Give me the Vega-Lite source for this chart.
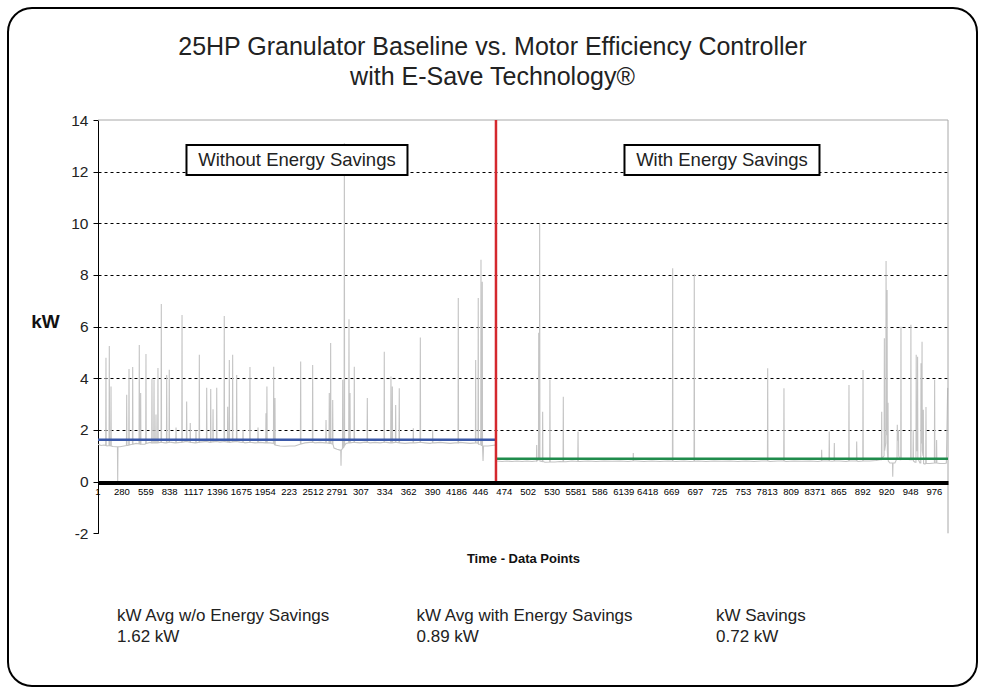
{
  "$schema": "https://vega.github.io/schema/vega-lite/v6.json",
  "width": 969,
  "height": 678,
  "padding": 8,
  "autosize": {"type": "none"},
  "background": "white",
  "config": {
    "view": {"stroke": "black", "strokeWidth": 2, "cornerRadius": 24},
    "font": "Liberation Sans",
    "axis": {"labelFont": "Liberation Sans", "titleFont": "Liberation Sans"},
    "text": {"font": "Liberation Sans"}
  },
  "title": {
    "text": ["25HP Granulator Baseline vs. Motor Efficiency Controller", "with E-Save Technology®"],
    "fontSize": 25,
    "font": "Liberation Sans",
    "fontWeight": "normal",
    "color": "#222222",
    "anchor": "middle",
    "frame": "group",
    "offset": -82,
    "lineHeight": 30
  },
  "resolve": {"scale": {"x": "independent", "y": "independent"}},
  "layer": [
    {
      "layer": [
        {
          "data": {"values": [
{"t":1,"kW":1.45},{"t":36,"kW":1.40},{"t":71,"kW":1.42},{"t":91,"kW":1.40},{"t":94,"kW":4.80},{"t":97,"kW":1.40},{"t":106,"kW":1.38},{"t":130,"kW":1.40},{"t":133,"kW":5.25},{"t":136,"kW":1.40},{"t":150,"kW":1.38},{"t":153,"kW":3.68},{"t":156,"kW":1.38},{"t":176,"kW":1.36},{"t":211,"kW":1.35},{"t":228,"kW":1.35},{"t":231,"kW":0.0},{"t":234,"kW":1.35},{"t":258,"kW":1.35},{"t":305,"kW":1.38},{"t":333,"kW":1.40},{"t":336,"kW":3.36},{"t":339,"kW":1.40},{"t":351,"kW":1.40},{"t":360,"kW":1.42},{"t":363,"kW":4.36},{"t":366,"kW":1.42},{"t":398,"kW":1.45},{"t":403,"kW":1.45},{"t":406,"kW":4.44},{"t":409,"kW":1.45},{"t":445,"kW":1.48},{"t":480,"kW":1.46},{"t":483,"kW":5.29},{"t":486,"kW":1.46},{"t":496,"kW":1.45},{"t":499,"kW":3.43},{"t":502,"kW":1.45},{"t":550,"kW":1.45},{"t":558,"kW":1.48},{"t":561,"kW":4.94},{"t":564,"kW":1.48},{"t":608,"kW":1.52},{"t":628,"kW":1.50},{"t":631,"kW":3.98},{"t":634,"kW":1.50},{"t":652,"kW":1.50},{"t":655,"kW":3.94},{"t":658,"kW":1.50},{"t":666,"kW":1.50},{"t":675,"kW":1.50},{"t":678,"kW":2.60},{"t":681,"kW":1.50},{"t":698,"kW":1.50},{"t":701,"kW":4.40},{"t":704,"kW":1.50},{"t":725,"kW":1.52},{"t":737,"kW":1.52},{"t":740,"kW":6.88},{"t":743,"kW":1.52},{"t":783,"kW":1.50},{"t":800,"kW":1.50},{"t":803,"kW":4.13},{"t":806,"kW":1.50},{"t":830,"kW":1.52},{"t":833,"kW":4.33},{"t":836,"kW":1.52},{"t":842,"kW":1.53},{"t":900,"kW":1.50},{"t":909,"kW":1.50},{"t":912,"kW":2.10},{"t":915,"kW":1.50},{"t":958,"kW":1.52},{"t":979,"kW":1.52},{"t":982,"kW":6.45},{"t":985,"kW":1.52},{"t":1017,"kW":1.55},{"t":1033,"kW":1.55},{"t":1036,"kW":3.10},{"t":1039,"kW":1.55},{"t":1075,"kW":1.52},{"t":1078,"kW":2.27},{"t":1081,"kW":1.52},{"t":1133,"kW":1.50},{"t":1142,"kW":1.50},{"t":1145,"kW":2.00},{"t":1148,"kW":1.50},{"t":1181,"kW":1.52},{"t":1184,"kW":4.91},{"t":1187,"kW":1.52},{"t":1192,"kW":1.53},{"t":1250,"kW":1.55},{"t":1267,"kW":1.55},{"t":1270,"kW":3.63},{"t":1273,"kW":1.55},{"t":1308,"kW":1.52},{"t":1314,"kW":1.52},{"t":1317,"kW":3.59},{"t":1320,"kW":1.52},{"t":1341,"kW":1.54},{"t":1344,"kW":2.80},{"t":1347,"kW":1.54},{"t":1367,"kW":1.55},{"t":1384,"kW":1.55},{"t":1387,"kW":3.63},{"t":1390,"kW":1.55},{"t":1425,"kW":1.53},{"t":1472,"kW":1.55},{"t":1475,"kW":6.41},{"t":1478,"kW":1.55},{"t":1484,"kW":1.55},{"t":1512,"kW":1.53},{"t":1515,"kW":2.90},{"t":1518,"kW":1.53},{"t":1531,"kW":1.52},{"t":1534,"kW":4.71},{"t":1537,"kW":1.52},{"t":1542,"kW":1.52},{"t":1570,"kW":1.54},{"t":1573,"kW":4.91},{"t":1576,"kW":1.54},{"t":1600,"kW":1.55},{"t":1617,"kW":1.55},{"t":1620,"kW":4.13},{"t":1623,"kW":1.55},{"t":1659,"kW":1.53},{"t":1691,"kW":1.52},{"t":1694,"kW":2.00},{"t":1697,"kW":1.52},{"t":1717,"kW":1.50},{"t":1772,"kW":1.52},{"t":1775,"kW":4.44},{"t":1778,"kW":1.52},{"t":1834,"kW":1.50},{"t":1866,"kW":1.51},{"t":1869,"kW":2.10},{"t":1872,"kW":1.51},{"t":1892,"kW":1.52},{"t":1950,"kW":1.50},{"t":1959,"kW":1.50},{"t":1962,"kW":2.65},{"t":1965,"kW":1.50},{"t":1970,"kW":1.50},{"t":1973,"kW":3.68},{"t":1976,"kW":1.50},{"t":2009,"kW":1.50},{"t":2049,"kW":1.48},{"t":2052,"kW":4.45},{"t":2055,"kW":1.48},{"t":2064,"kW":1.42},{"t":2067,"kW":3.24},{"t":2070,"kW":1.42},{"t":2126,"kW":1.38},{"t":2184,"kW":1.37},{"t":2242,"kW":1.38},{"t":2301,"kW":1.38},{"t":2359,"kW":1.45},{"t":2364,"kW":1.46},{"t":2367,"kW":4.65},{"t":2370,"kW":1.46},{"t":2417,"kW":1.50},{"t":2476,"kW":1.52},{"t":2504,"kW":1.52},{"t":2507,"kW":4.52},{"t":2510,"kW":1.52},{"t":2534,"kW":1.50},{"t":2593,"kW":1.52},{"t":2651,"kW":1.50},{"t":2660,"kW":1.50},{"t":2663,"kW":2.39},{"t":2666,"kW":1.50},{"t":2698,"kW":1.48},{"t":2701,"kW":3.43},{"t":2704,"kW":1.48},{"t":2714,"kW":1.48},{"t":2717,"kW":5.37},{"t":2720,"kW":1.48},{"t":2738,"kW":1.45},{"t":2741,"kW":3.16},{"t":2744,"kW":1.45},{"t":2756,"kW":1.30},{"t":2791,"kW":1.25},{"t":2826,"kW":1.22},{"t":2835,"kW":1.22},{"t":2838,"kW":0.62},{"t":2841,"kW":1.22},{"t":2855,"kW":1.28},{"t":2858,"kW":3.94},{"t":2861,"kW":1.30},{"t":2874,"kW":1.35},{"t":2877,"kW":13.1},{"t":2880,"kW":1.40},{"t":2896,"kW":1.48},{"t":2928,"kW":1.50},{"t":2931,"kW":6.29},{"t":2934,"kW":1.50},{"t":2940,"kW":1.50},{"t":2943,"kW":3.43},{"t":2946,"kW":1.50},{"t":2990,"kW":1.52},{"t":2993,"kW":4.45},{"t":2996,"kW":1.52},{"t":3001,"kW":1.52},{"t":3060,"kW":1.50},{"t":3118,"kW":1.53},{"t":3142,"kW":1.52},{"t":3145,"kW":3.24},{"t":3148,"kW":1.52},{"t":3176,"kW":1.50},{"t":3235,"kW":1.52},{"t":3293,"kW":1.50},{"t":3340,"kW":1.52},{"t":3343,"kW":5.03},{"t":3346,"kW":1.52},{"t":3351,"kW":1.53},{"t":3410,"kW":1.50},{"t":3418,"kW":1.50},{"t":3421,"kW":4.07},{"t":3424,"kW":1.50},{"t":3434,"kW":1.50},{"t":3437,"kW":3.68},{"t":3440,"kW":1.50},{"t":3468,"kW":1.52},{"t":3473,"kW":1.52},{"t":3476,"kW":2.97},{"t":3479,"kW":1.52},{"t":3515,"kW":1.50},{"t":3518,"kW":3.62},{"t":3521,"kW":1.50},{"t":3527,"kW":1.50},{"t":3585,"kW":1.48},{"t":3643,"kW":1.50},{"t":3679,"kW":1.50},{"t":3682,"kW":2.07},{"t":3685,"kW":1.50},{"t":3702,"kW":1.50},{"t":3761,"kW":1.52},{"t":3764,"kW":5.58},{"t":3767,"kW":1.52},{"t":3818,"kW":1.50},{"t":3877,"kW":1.48},{"t":3905,"kW":1.50},{"t":3908,"kW":2.00},{"t":3911,"kW":1.50},{"t":3935,"kW":1.50},{"t":3993,"kW":1.52},{"t":4052,"kW":1.50},{"t":4110,"kW":1.48},{"t":4168,"kW":1.50},{"t":4204,"kW":1.50},{"t":4207,"kW":7.11},{"t":4210,"kW":1.50},{"t":4227,"kW":1.52},{"t":4285,"kW":1.50},{"t":4344,"kW":1.48},{"t":4407,"kW":1.50},{"t":4410,"kW":4.71},{"t":4413,"kW":1.50},{"t":4437,"kW":1.48},{"t":4440,"kW":7.11},{"t":4443,"kW":1.45},{"t":4469,"kW":1.45},{"t":4472,"kW":8.59},{"t":4475,"kW":1.40},{"t":4484,"kW":1.40},{"t":4487,"kW":7.74},{"t":4490,"kW":1.38},{"t":4496,"kW":0.80},{"t":4502,"kW":1.38},{"t":4554,"kW":1.38},{"t":4601,"kW":1.40},{"t":4645,"kW":1.42},{"t":4650,"kW":0.82},
{"t":4659,"kW":0.80},{"t":4717,"kW":0.78},{"t":4775,"kW":0.80},{"t":4834,"kW":0.78},{"t":4892,"kW":0.80},{"t":4951,"kW":0.78},{"t":5009,"kW":0.80},{"t":5067,"kW":0.78},{"t":5114,"kW":0.80},{"t":5119,"kW":0.80},{"t":5122,"kW":1.42},{"t":5125,"kW":0.80},{"t":5143,"kW":0.85},{"t":5146,"kW":5.76},{"t":5149,"kW":0.90},{"t":5154,"kW":0.90},{"t":5157,"kW":9.97},{"t":5160,"kW":0.80},{"t":5189,"kW":0.78},{"t":5192,"kW":2.71},{"t":5195,"kW":0.78},{"t":5219,"kW":0.75},{"t":5274,"kW":0.76},{"t":5277,"kW":3.94},{"t":5280,"kW":0.76},{"t":5336,"kW":0.76},{"t":5394,"kW":0.78},{"t":5430,"kW":0.77},{"t":5433,"kW":3.29},{"t":5436,"kW":0.77},{"t":5464,"kW":0.77},{"t":5534,"kW":0.80},{"t":5602,"kW":0.78},{"t":5605,"kW":1.94},{"t":5608,"kW":0.78},{"t":5628,"kW":0.78},{"t":5721,"kW":0.80},{"t":5815,"kW":0.78},{"t":5908,"kW":0.80},{"t":6002,"kW":0.79},{"t":6095,"kW":0.80},{"t":6188,"kW":0.78},{"t":6247,"kW":0.80},{"t":6250,"kW":1.11},{"t":6253,"kW":0.80},{"t":6282,"kW":0.80},{"t":6375,"kW":0.78},{"t":6468,"kW":0.80},{"t":6562,"kW":0.78},{"t":6655,"kW":0.80},{"t":6707,"kW":0.79},{"t":6710,"kW":8.26},{"t":6713,"kW":0.79},{"t":6749,"kW":0.78},{"t":6842,"kW":0.80},{"t":6912,"kW":0.78},{"t":6959,"kW":0.79},{"t":6962,"kW":8.03},{"t":6965,"kW":0.79},{"t":7005,"kW":0.80},{"t":7099,"kW":0.78},{"t":7192,"kW":0.80},{"t":7285,"kW":0.79},{"t":7379,"kW":0.80},{"t":7472,"kW":0.78},{"t":7566,"kW":0.80},{"t":7659,"kW":0.78},{"t":7752,"kW":0.80},{"t":7816,"kW":0.80},{"t":7819,"kW":4.39},{"t":7822,"kW":0.80},{"t":7846,"kW":0.78},{"t":7939,"kW":0.80},{"t":8006,"kW":0.80},{"t":8009,"kW":3.62},{"t":8012,"kW":0.80},{"t":8033,"kW":0.78},{"t":8126,"kW":0.80},{"t":8219,"kW":0.79},{"t":8313,"kW":0.80},{"t":8406,"kW":0.78},{"t":8446,"kW":0.80},{"t":8449,"kW":1.23},{"t":8452,"kW":0.80},{"t":8500,"kW":0.80},{"t":8535,"kW":0.80},{"t":8538,"kW":1.94},{"t":8541,"kW":0.80},{"t":8570,"kW":0.79},{"t":8594,"kW":0.80},{"t":8597,"kW":1.50},{"t":8600,"kW":0.80},{"t":8663,"kW":0.80},{"t":8733,"kW":0.78},{"t":8765,"kW":0.80},{"t":8768,"kW":3.74},{"t":8771,"kW":0.80},{"t":8803,"kW":0.80},{"t":8855,"kW":0.80},{"t":8858,"kW":1.55},{"t":8861,"kW":0.80},{"t":8873,"kW":0.78},{"t":8929,"kW":0.80},{"t":8932,"kW":4.32},{"t":8935,"kW":0.80},{"t":8943,"kW":0.80},{"t":9013,"kW":0.80},{"t":9083,"kW":0.82},{"t":9130,"kW":0.85},{"t":9147,"kW":0.85},{"t":9150,"kW":2.71},{"t":9153,"kW":0.90},{"t":9178,"kW":1.00},{"t":9181,"kW":5.55},{"t":9184,"kW":1.20},{"t":9198,"kW":1.50},{"t":9201,"kW":8.54},{"t":9204,"kW":2.00},{"t":9210,"kW":1.80},{"t":9213,"kW":7.42},{"t":9216,"kW":1.20},{"t":9221,"kW":0.90},{"t":9224,"kW":3.05},{"t":9227,"kW":0.80},{"t":9246,"kW":0.72},{"t":9276,"kW":0.72},{"t":9279,"kW":0.19},{"t":9282,"kW":0.72},{"t":9304,"kW":0.72},{"t":9329,"kW":0.90},{"t":9332,"kW":2.20},{"t":9335,"kW":1.60},{"t":9343,"kW":1.60},{"t":9346,"kW":2.00},{"t":9349,"kW":1.00},{"t":9363,"kW":0.85},{"t":9372,"kW":0.85},{"t":9375,"kW":6.00},{"t":9378,"kW":0.90},{"t":9421,"kW":0.88},{"t":9480,"kW":0.85},{"t":9488,"kW":0.85},{"t":9491,"kW":6.07},{"t":9494,"kW":0.85},{"t":9515,"kW":0.85},{"t":9518,"kW":2.00},{"t":9521,"kW":0.80},{"t":9538,"kW":0.75},{"t":9550,"kW":0.75},{"t":9553,"kW":4.91},{"t":9556,"kW":1.20},{"t":9566,"kW":1.20},{"t":9569,"kW":4.83},{"t":9572,"kW":0.90},{"t":9596,"kW":0.72},{"t":9606,"kW":0.72},{"t":9609,"kW":4.58},{"t":9612,"kW":1.50},{"t":9618,"kW":1.50},{"t":9621,"kW":5.42},{"t":9624,"kW":1.20},{"t":9633,"kW":1.00},{"t":9636,"kW":2.78},{"t":9639,"kW":0.70},{"t":9655,"kW":0.68},{"t":9664,"kW":0.70},{"t":9667,"kW":2.89},{"t":9670,"kW":0.70},{"t":9713,"kW":0.70},{"t":9765,"kW":0.72},{"t":9768,"kW":3.94},{"t":9771,"kW":0.72},{"t":9788,"kW":0.72},{"t":9791,"kW":1.61},{"t":9794,"kW":0.72},{"t":9830,"kW":0.70},{"t":9888,"kW":0.70},{"t":9905,"kW":0.72},{"t":9920,"kW":3.63}
          ]},
          "mark": {"type": "line", "color": "#c4c4c4", "strokeWidth": 1.1},
          "encoding": {
            "x": {
              "field": "t", "type": "quantitative",
              "scale": {"domain": [1, 9924], "range": [90, 940], "nice": false, "zero": false},
              "axis": {
                "orient": "bottom", "offset": -203.5, "zindex": 1,
                "values": [1, 9924],
                "labels": false, "ticks": false, "tickSize": 0,
                "domainWidth": 4, "domainColor": "black",
                "grid": false,
                "title": "Time - Data Points", "titleFontSize": 13, "titleFontWeight": "bold", "titleColor": "#111111",
                "titleX": 515, "titleY": 76, "titleBaseline": "middle", "titleAlign": "center"
              }
            },
            "y": {
              "field": "kW", "type": "quantitative",
              "scale": {"domain": [-2, 14], "range": [525.3, 112], "nice": false, "zero": false},
              "axis": {
                "orient": "left", "offset": -90,
                "values": [-2,0,2,4,6,8,10,12,14],
                "labelExpr": "replace(datum.label, '\u2212', '-')",
                "tickSize": 5, "tickColor": "black", "domainColor": "black",
                "labelFontSize": 15.5, "labelColor": "#222222", "labelPadding": 5,
                "grid": true, "gridColor": "black", "gridDash": [3, 3], "gridWidth": 1,
                "gridOpacity": {"condition": {"test": "datum.value <= 0 || datum.value >= 14", "value": 0}, "value": 1},
                "title": "kW", "titleAngle": 0, "titleFontSize": 19, "titleFontWeight": "bold", "titleColor": "#111111",
                "titleX": -53, "titleY": 313, "titleAlign": "center", "titleBaseline": "middle"
              }
            }
          }
        },
        {
          "data": {"values": [
            {"tick": 1, "label": "1"}, {"tick": 280, "label": "280"}, {"tick": 559, "label": "559"}, {"tick": 838, "label": "838"},
            {"tick": 1117, "label": "1117"}, {"tick": 1396, "label": "1396"}, {"tick": 1675, "label": "1675"}, {"tick": 1954, "label": "1954"},
            {"tick": 2233, "label": "223"}, {"tick": 2512, "label": "2512"}, {"tick": 2791, "label": "2791"}, {"tick": 3070, "label": "307"},
            {"tick": 3349, "label": "334"}, {"tick": 3628, "label": "362"}, {"tick": 3907, "label": "390"}, {"tick": 4186, "label": "4186"},
            {"tick": 4465, "label": "446"}, {"tick": 4744, "label": "474"}, {"tick": 5023, "label": "502"}, {"tick": 5302, "label": "530"},
            {"tick": 5581, "label": "5581"}, {"tick": 5860, "label": "586"}, {"tick": 6139, "label": "6139"}, {"tick": 6418, "label": "6418"},
            {"tick": 6697, "label": "669"}, {"tick": 6976, "label": "697"}, {"tick": 7255, "label": "725"}, {"tick": 7534, "label": "753"},
            {"tick": 7813, "label": "7813"}, {"tick": 8092, "label": "809"}, {"tick": 8371, "label": "8371"}, {"tick": 8650, "label": "865"},
            {"tick": 8929, "label": "892"}, {"tick": 9208, "label": "920"}, {"tick": 9487, "label": "948"}, {"tick": 9766, "label": "976"}
          ]},
          "mark": {"type": "text", "font": "Liberation Sans", "fontSize": 9.5, "align": "center", "baseline": "top", "color": "black"},
          "encoding": {
            "x": {"field": "tick", "type": "quantitative"},
            "y": {"datum": -0.2, "type": "quantitative"},
            "text": {"field": "label"}
          }
        },
        {
          "data": {"values": [{}]},
          "mark": {"type": "rule", "color": "#a8a8a8", "strokeWidth": 1},
          "encoding": {
            "x": {"datum": 1, "type": "quantitative"},
            "x2": {"datum": 9924},
            "y": {"datum": 14, "type": "quantitative"}
          }
        },
        {
          "data": {"values": [{}]},
          "mark": {"type": "rule", "color": "#a8a8a8", "strokeWidth": 1},
          "encoding": {
            "x": {"datum": 9924, "type": "quantitative"},
            "y": {"datum": -2, "type": "quantitative"},
            "y2": {"datum": 14}
          }
        },
        {
          "data": {"values": [
            {"segment": "Without Energy Savings", "start": 1, "end": 4647, "avg": 1.62},
            {"segment": "With Energy Savings", "start": 4647, "end": 9924, "avg": 0.89}
          ]},
          "mark": {"type": "rule", "strokeWidth": 2.5},
          "encoding": {
            "x": {"field": "start", "type": "quantitative"},
            "x2": {"field": "end"},
            "y": {"field": "avg", "type": "quantitative"},
            "color": {"field": "segment", "type": "nominal", "scale": {"domain": ["Without Energy Savings", "With Energy Savings"], "range": ["#3a58a8", "#1f8c4c"]}, "legend": null}
          }
        },
        {
          "data": {"values": [
            {"segment": "Without Energy Savings", "start": 1, "end": 4647, "avg": 1.62},
            {"segment": "With Energy Savings", "start": 4647, "end": 9924, "avg": 0.89}
          ]},
          "transform": [{"filter": "datum.segment === 'With Energy Savings'"}],
          "mark": {"type": "rule", "color": "#d4282e", "strokeWidth": 2.5},
          "encoding": {
            "x": {"field": "start", "type": "quantitative"},
            "y": {"datum": 0, "type": "quantitative"},
            "y2": {"datum": 14}
          }
        },
        {
          "data": {"values": [
            {"segment": "Without Energy Savings", "start": 1, "end": 4647, "avg": 1.62},
            {"segment": "With Energy Savings", "start": 4647, "end": 9924, "avg": 0.89}
          ]},
          "transform": [{"filter": "datum.segment === 'Without Energy Savings'"}, {"calculate": "(datum.start + datum.end) / 2", "as": "mid"}],
          "mark": {"type": "rect", "width": 221, "height": 30, "fill": "white", "stroke": "black", "strokeWidth": 2},
          "encoding": {
            "x": {"field": "mid", "type": "quantitative"},
            "y": {"datum": 12.45, "type": "quantitative"}
          }
        },
        {
          "data": {"values": [
            {"segment": "Without Energy Savings", "start": 1, "end": 4647, "avg": 1.62},
            {"segment": "With Energy Savings", "start": 4647, "end": 9924, "avg": 0.89}
          ]},
          "transform": [{"filter": "datum.segment === 'With Energy Savings'"}, {"calculate": "(datum.start + datum.end) / 2", "as": "mid"}],
          "mark": {"type": "rect", "width": 195, "height": 30, "fill": "white", "stroke": "black", "strokeWidth": 2},
          "encoding": {
            "x": {"field": "mid", "type": "quantitative"},
            "y": {"datum": 12.45, "type": "quantitative"}
          }
        },
        {
          "data": {"values": [
            {"segment": "Without Energy Savings", "start": 1, "end": 4647, "avg": 1.62},
            {"segment": "With Energy Savings", "start": 4647, "end": 9924, "avg": 0.89}
          ]},
          "transform": [{"calculate": "(datum.start + datum.end) / 2", "as": "mid"}],
          "mark": {"type": "text", "fontSize": 18.5, "align": "center", "baseline": "middle", "color": "#222222"},
          "encoding": {
            "x": {"field": "mid", "type": "quantitative"},
            "y": {"datum": 12.45, "type": "quantitative"},
            "text": {"field": "segment"}
          }
        }
      ]
    },
    {
      "data": {"values": [
        {"label": "kW Avg w/o Energy Savings", "value": "1.62 kW"},
        {"label": "kW Avg with Energy Savings", "value": "0.89 kW"},
        {"label": "kW Savings", "value": "0.72 kW"}
      ]},
      "transform": [{"fold": ["label", "value"], "as": ["line", "txt"]}],
      "mark": {"type": "text", "fontSize": 17, "align": "left", "baseline": "middle", "color": "#222222"},
      "encoding": {
        "x": {"field": "label", "type": "nominal", "scale": {"type": "point", "domain": ["kW Avg w/o Energy Savings", "kW Avg with Energy Savings", "kW Savings"], "range": [109, 708], "padding": 0}, "axis": null},
        "y": {"field": "line", "type": "nominal", "scale": {"type": "point", "domain": ["label", "value"], "range": [608, 629], "padding": 0}, "axis": null},
        "text": {"field": "txt"}
      }
    }
  ]
}
